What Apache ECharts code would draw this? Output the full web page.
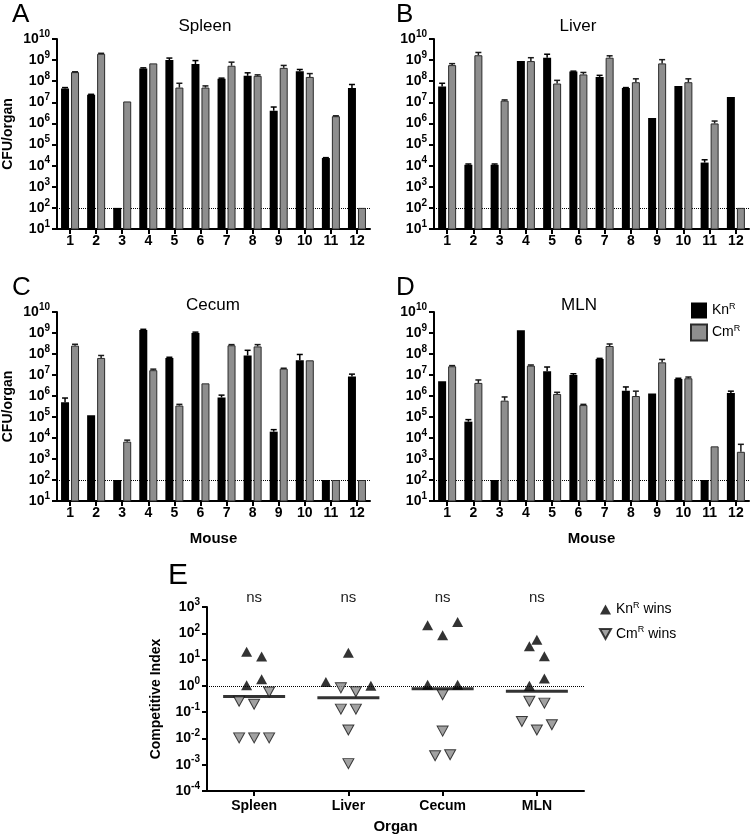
<!DOCTYPE html>
<html><head><meta charset="utf-8">
<script src="https://cdn.jsdelivr.net/npm/echarts@6/dist/echarts.min.js"></script>
<style>html,body{margin:0;padding:0;background:#fff}#c{width:750px;height:835px}</style>
</head><body><div id="c"></div>
<script>
// ---------- data ----------
const mice = ['1','2','3','4','5','6','7','8','9','10','11','12'];
const detectionLimit = 100;

const spleenKn    = [4.5e7, 2.3e7, 100, 4e8, 1e9, 6.5e8, 1.3e8, 1.8e8, 4e6, 3e8, 2.3e4, 4.8e7];
const spleenKnErr = [5e7, 2.4e7, null, 4.3e8, 1.25e9, 9.5e8, 1.4e8, 2.5e8, 6e6, 3.6e8, 2.4e4, 7e7];
const spleenCm    = [2.7e8, 2e9, 1.1e7, 7e8, 5e7, 5e7, 5.4e8, 1.8e8, 4.3e8, 1.6e8, 2.2e6, 100];
const spleenCmErr = [2.8e8, 2.1e9, null, null, 8e7, 6e7, 8e8, 2e8, 5.6e8, 2.3e8, 2.3e6, null];

const liverKn     = [5.6e7, 1.1e4, 1.1e4, 9e8, 1.3e9, 2.9e8, 1.6e8, 4.8e7, 1.8e6, 6e7, 1.4e4, 1.8e7];
const liverKnErr  = [8e7, 1.2e4, 1.2e4, null, 1.9e9, 3e8, 1.9e8, 5e7, null, null, 1.9e4, null];
const liverCm     = [5.8e8, 1.7e9, 1.2e7, 9e8, 7.8e7, 2.1e8, 1.3e9, 9e7, 7e8, 9e7, 1e6, 100];
const liverCmErr  = [6.8e8, 2.3e9, 1.3e7, 1.3e9, 1.1e8, 2.6e8, 1.6e9, 1.3e8, 1.05e9, 1.3e8, 1.3e6, null];

const cecumKn     = [5e5, 1.2e5, 100, 1.4e9, 6.5e7, 1e9, 8.5e5, 8.5e7, 2e4, 5e7, 100, 8.5e6];
const cecumKnErr  = [8e5, null, null, 1.5e9, 7e7, 1.1e9, 1.1e6, 1.5e8, 2.5e4, 9.5e7, null, 1.1e7];
const cecumCm     = [2.5e8, 6.5e7, 6.7e3, 1.7e7, 3.5e5, 4e6, 2.6e8, 2.3e8, 2e7, 5e7, 100, 100];
const cecumCmErr  = [2.9e8, 8.5e7, 7.9e3, 1.9e7, 4e5, null, 2.8e8, 2.8e8, 2.1e7, null, null, null];

const mlnKn       = [5e6, 6e4, 100, 1.35e9, 1.5e7, 1e7, 5.8e7, 1.8e6, 1.3e6, 6.5e6, 100, 1.4e6];
const mlnKnErr    = [null, 7.5e4, null, null, 2.4e7, 1.15e7, 6.2e7, 2.7e6, null, 7e6, null, 1.7e6];
const mlnCm       = [2.6e7, 4.2e6, 6e5, 2.8e7, 1.25e6, 3.7e5, 2.4e8, 1e6, 4e7, 7e6, 4e3, 2.2e3];
const mlnCmErr    = [2.8e7, 5.8e6, 9e5, 3e7, 1.5e6, 4e5, 3e8, 1.7e6, 5.5e7, 8e6, null, 5e3];

const organs = ['Spleen', 'Liver', 'Cecum', 'MLN'];
const ciSpleenKnWins = [20, 13, 1.8, 1.05];
const ciSpleenCmWins = [0.58, 0.26, 0.2, 0.0105, 0.0105, 0.0105];
const ciLiverKnWins  = [18, 1.4, 1.0];
const ciLiverCmWins  = [0.84, 0.6, 0.13, 0.13, 0.021, 0.0011];
const ciCecumKnWins  = [200, 85, 270, 1.1, 1.1];
const ciCecumCmWins  = [0.46, 0.019, 0.0022, 0.0024];
const ciMlnKnWins    = [32, 57, 13.5, 1.9, 1.0];
const ciMlnCmWins    = [0.26, 0.22, 0.044, 0.021, 0.033];
const ciMedian       = [0.39, 0.35, 0.77, 0.62];

// ---------- layout (beeswarm columns, not data) ----------
const colSpleenKn = [-1, 1, 1, -1];
const colSpleenCm = [2, -2, 0, -2, 0, 2];
const colLiverKn  = [0, -3, 3];
const colLiverCm  = [-1, 1, -1, 1, 0, 0];
const colCecumKn  = [-2, 0, 2, -2, 2];
const colCecumCm  = [0, 0, -1, 1];
const colMlnKn    = [-1, 0, 1, 1, -1];
const colMlnCm    = [-1, 1, -2, 0, 2];
const COL_W = 7.5;

const FONT = '"Liberation Sans", Arial, Helvetica, sans-serif';

const panels = [
  {kn: spleenKn, knErr: spleenKnErr, cm: spleenCm, cmErr: spleenCmErr},
  {kn: liverKn,  knErr: liverKnErr,  cm: liverCm,  cmErr: liverCmErr},
  {kn: cecumKn,  knErr: cecumKnErr,  cm: cecumCm,  cmErr: cecumCmErr},
  {kn: mlnKn,    knErr: mlnKnErr,    cm: mlnCm,    cmErr: mlnCmErr}
];
const gridPos = [
  {left: 57,  top: 39,  width: 313, height: 190},
  {left: 434, top: 39,  width: 315, height: 190},
  {left: 57,  top: 312, width: 313, height: 189},
  {left: 434, top: 312, width: 315, height: 189},
  {left: 207, top: 607, width: 377, height: 187}
];

function powLabel(v) {
  const e = Math.round(Math.log10(v));
  return '{b|10}{s|' + e + '}';
}
const powRich = {
  b: {fontSize: 14, fontWeight: 'bold', color: '#000', fontFamily: FONT},
  s: {fontSize: 10, fontWeight: 'bold', color: '#000', fontFamily: FONT, padding: [0, 0, 10, 0]}
};
const axisLineStyle = {show: true, lineStyle: {color: '#000', width: 2}};
const axisTickStyle = {show: true, length: 5, lineStyle: {color: '#000', width: 2}};

const xAxes = [], yAxes = [], series = [];

panels.forEach((p, i) => {
  xAxes.push({
    type: 'category', gridIndex: i, data: mice,
    axisLine: axisLineStyle,
    axisTick: Object.assign({alignWithLabel: true}, axisTickStyle),
    axisLabel: {fontSize: 14, fontWeight: 'bold', color: '#000', fontFamily: FONT, margin: 5, interval: 0},
    name: i >= 2 ? 'Mouse' : '',
    nameLocation: 'middle', nameGap: 30,
    nameTextStyle: {fontSize: 15, fontWeight: 'bold', color: '#000', fontFamily: FONT}
  });
  yAxes.push({
    type: 'log', logBase: 10, gridIndex: i, min: 10, max: 1e10, splitNumber: 9,
    axisLine: axisLineStyle, axisTick: axisTickStyle,
    splitLine: {show: false}, minorTick: {show: false},
    axisLabel: {formatter: powLabel, rich: powRich, margin: 7},
    name: (i % 2 === 0) ? 'CFU/organ' : '',
    nameLocation: 'middle', nameGap: 42,
    nameTextStyle: {fontSize: 14, fontWeight: 'bold', color: '#000', fontFamily: FONT}
  });
  series.push({
    type: 'bar', name: 'KnR', xAxisIndex: i, yAxisIndex: i, data: p.kn,
    barWidth: 8, barGap: '25%', z: 6,
    itemStyle: {color: '#000'},
    markLine: {
      silent: true, symbol: 'none', z: 3, label: {show: false},
      lineStyle: {type: 'dotted', color: '#000', width: 1},
      data: [{yAxis: detectionLimit}]
    }
  });
  series.push({
    type: 'bar', name: 'CmR', xAxisIndex: i, yAxisIndex: i, data: p.cm,
    barWidth: 8, barGap: '25%', z: 6,
    itemStyle: {color: '#8e8e8e', borderColor: '#2b2b2b', borderWidth: 1}
  });
  const errData = [];
  p.kn.forEach((v, j) => { if (p.knErr[j] != null) errData.push([j, p.knErr[j], v, -1]); });
  p.cm.forEach((v, j) => { if (p.cmErr[j] != null) errData.push([j, p.cmErr[j], v, 1]); });
  series.push({
    type: 'custom', xAxisIndex: i, yAxisIndex: i, z: 7, silent: true,
    encode: {x: 0, y: 1},
    data: errData,
    renderItem: function (params, api) {
      const c = api.value(0), top = api.value(1), base = api.value(2), side = api.value(3);
      const pt = api.coord([c, top]);
      const pb = api.coord([c, base]);
      const x = pt[0] + side * 5;
      const col = side < 0 ? '#000' : '#1a1a1a';
      return {type: 'group', children: [
        {type: 'line', shape: {x1: x, y1: pb[1], x2: x, y2: pt[1]}, style: {stroke: col, lineWidth: 1.5}},
        {type: 'line', shape: {x1: x - 3, y1: pt[1], x2: x + 3, y2: pt[1]}, style: {stroke: col, lineWidth: 1.5}}
      ]};
    }
  });
});

// Panel E axes
xAxes.push({
  type: 'category', gridIndex: 4, data: organs,
  axisLine: axisLineStyle,
  axisTick: Object.assign({alignWithLabel: true}, axisTickStyle),
  axisLabel: {fontSize: 14, fontWeight: 'bold', color: '#000', fontFamily: FONT, margin: 8},
  name: 'Organ', nameLocation: 'middle', nameGap: 28,
  nameTextStyle: {fontSize: 15, fontWeight: 'bold', color: '#000', fontFamily: FONT}
});
xAxes.push({
  type: 'category', gridIndex: 4, data: organs, position: 'top',
  axisLine: {show: false}, axisTick: {show: false},
  axisLabel: {formatter: () => 'ns', fontSize: 15, color: '#222', fontFamily: FONT, margin: 2}
});
yAxes.push({
  type: 'log', logBase: 10, gridIndex: 4, min: 1e-4, max: 1e3, splitNumber: 7,
  axisLine: axisLineStyle, axisTick: axisTickStyle,
  splitLine: {show: false}, minorTick: {show: false},
  axisLabel: {formatter: powLabel, rich: powRich, margin: 7},
  name: 'Competitive Index', nameLocation: 'middle', nameGap: 44,
  nameTextStyle: {fontSize: 14, fontWeight: 'bold', color: '#000', fontFamily: FONT}
});

function swarm(lists, cols) {
  const out = [];
  lists.forEach((vals, i) => vals.forEach((v, k) => {
    out.push({value: [i, v], symbolOffset: [cols[i][k] * COL_W, 0]});
  }));
  return out;
}
const knWinsData = swarm([ciSpleenKnWins, ciLiverKnWins, ciCecumKnWins, ciMlnKnWins],
                         [colSpleenKn, colLiverKn, colCecumKn, colMlnKn]);
const cmWinsData = swarm([ciSpleenCmWins, ciLiverCmWins, ciCecumCmWins, ciMlnCmWins],
                         [colSpleenCm, colLiverCm, colCecumCm, colMlnCm]);

series.push({
  type: 'scatter', name: 'Median', xAxisIndex: 4, yAxisIndex: 4,
  data: ciMedian.map((v, i) => [i, v]),
  symbol: 'rect', symbolSize: [62, 3], itemStyle: {color: '#000'}, z: 4, silent: true,
  markLine: {
    silent: true, symbol: 'none', z: 2, label: {show: false},
    lineStyle: {type: 'dotted', color: '#000', width: 1},
    data: [{yAxis: 1}]
  }
});
series.push({
  type: 'scatter', name: 'KnR wins', xAxisIndex: 4, yAxisIndex: 4, data: knWinsData,
  symbol: 'triangle', symbolSize: [11, 10], itemStyle: {color: '#000'}, z: 5
});
series.push({
  type: 'scatter', name: 'CmR wins', xAxisIndex: 4, yAxisIndex: 4, data: cmWinsData,
  symbol: 'triangle', symbolRotate: 180, symbolSize: [11, 10],
  itemStyle: {color: '#8a8a8a', borderColor: '#111', borderWidth: 1}, z: 5
});

const legRich = {
  a: {fontSize: 14, color: '#000', fontFamily: FONT},
  s: {fontSize: 9, color: '#000', fontFamily: FONT, padding: [0, 0, 8, 0]}
};
function legFmt(name) {
  const m = name.match(/^(Kn|Cm)R(.*)$/);
  return '{a|' + m[1] + '}{s|R}' + (m[2] ? '{a|' + m[2] + '}' : '');
}

const letterStyle = {fontSize: 26, fontFamily: FONT, fill: '#000'};
const titleStyle = {fontSize: 17, fontFamily: FONT, fill: '#000', textAlign: 'center', textVerticalAlign: 'middle'};
const graphics = [
  {type: 'text', left: 12, top: 2, style: Object.assign({text: 'A'}, letterStyle)},
  {type: 'text', left: 396, top: 2, style: Object.assign({text: 'B'}, letterStyle)},
  {type: 'text', left: 12, top: 275, style: Object.assign({text: 'C'}, letterStyle)},
  {type: 'text', left: 396, top: 275, style: Object.assign({text: 'D'}, letterStyle)},
  {type: 'text', left: 168, top: 561, style: Object.assign({text: 'E'}, letterStyle, {fontSize: 30})},
  {type: 'text', x: 205, y: 26, style: Object.assign({text: 'Spleen'}, titleStyle)},
  {type: 'text', x: 578, y: 26, style: Object.assign({text: 'Liver'}, titleStyle)},
  {type: 'text', x: 213, y: 305, style: Object.assign({text: 'Cecum'}, titleStyle)},
  {type: 'text', x: 579, y: 305, style: Object.assign({text: 'MLN'}, titleStyle)}
];

const chart = echarts.init(document.getElementById('c'), null, {renderer: 'canvas'});
chart.setOption({
  backgroundColor: '#fff',
  animation: false,
  textStyle: {fontFamily: FONT},
  grid: gridPos.map(g => Object.assign({containLabel: false}, g)),
  xAxis: xAxes,
  yAxis: yAxes,
  legend: [
    {
      data: ['KnR', 'CmR'], orient: 'vertical', left: 685, top: 297,
      icon: 'rect', itemWidth: 16, itemHeight: 16, itemGap: 5,
      formatter: legFmt, textStyle: {rich: legRich}, selectedMode: false
    },
    {
      data: [
        {name: 'KnR wins', icon: 'triangle'},
        {name: 'CmR wins', icon: 'path://M0,0L20,0L10,18Z'}
      ],
      orient: 'vertical', left: 594, top: 596,
      itemWidth: 11, itemHeight: 10, itemGap: 9,
      formatter: legFmt, textStyle: {rich: legRich}, selectedMode: false
    }
  ],
  graphic: graphics,
  series: series
});
</script></body></html>
